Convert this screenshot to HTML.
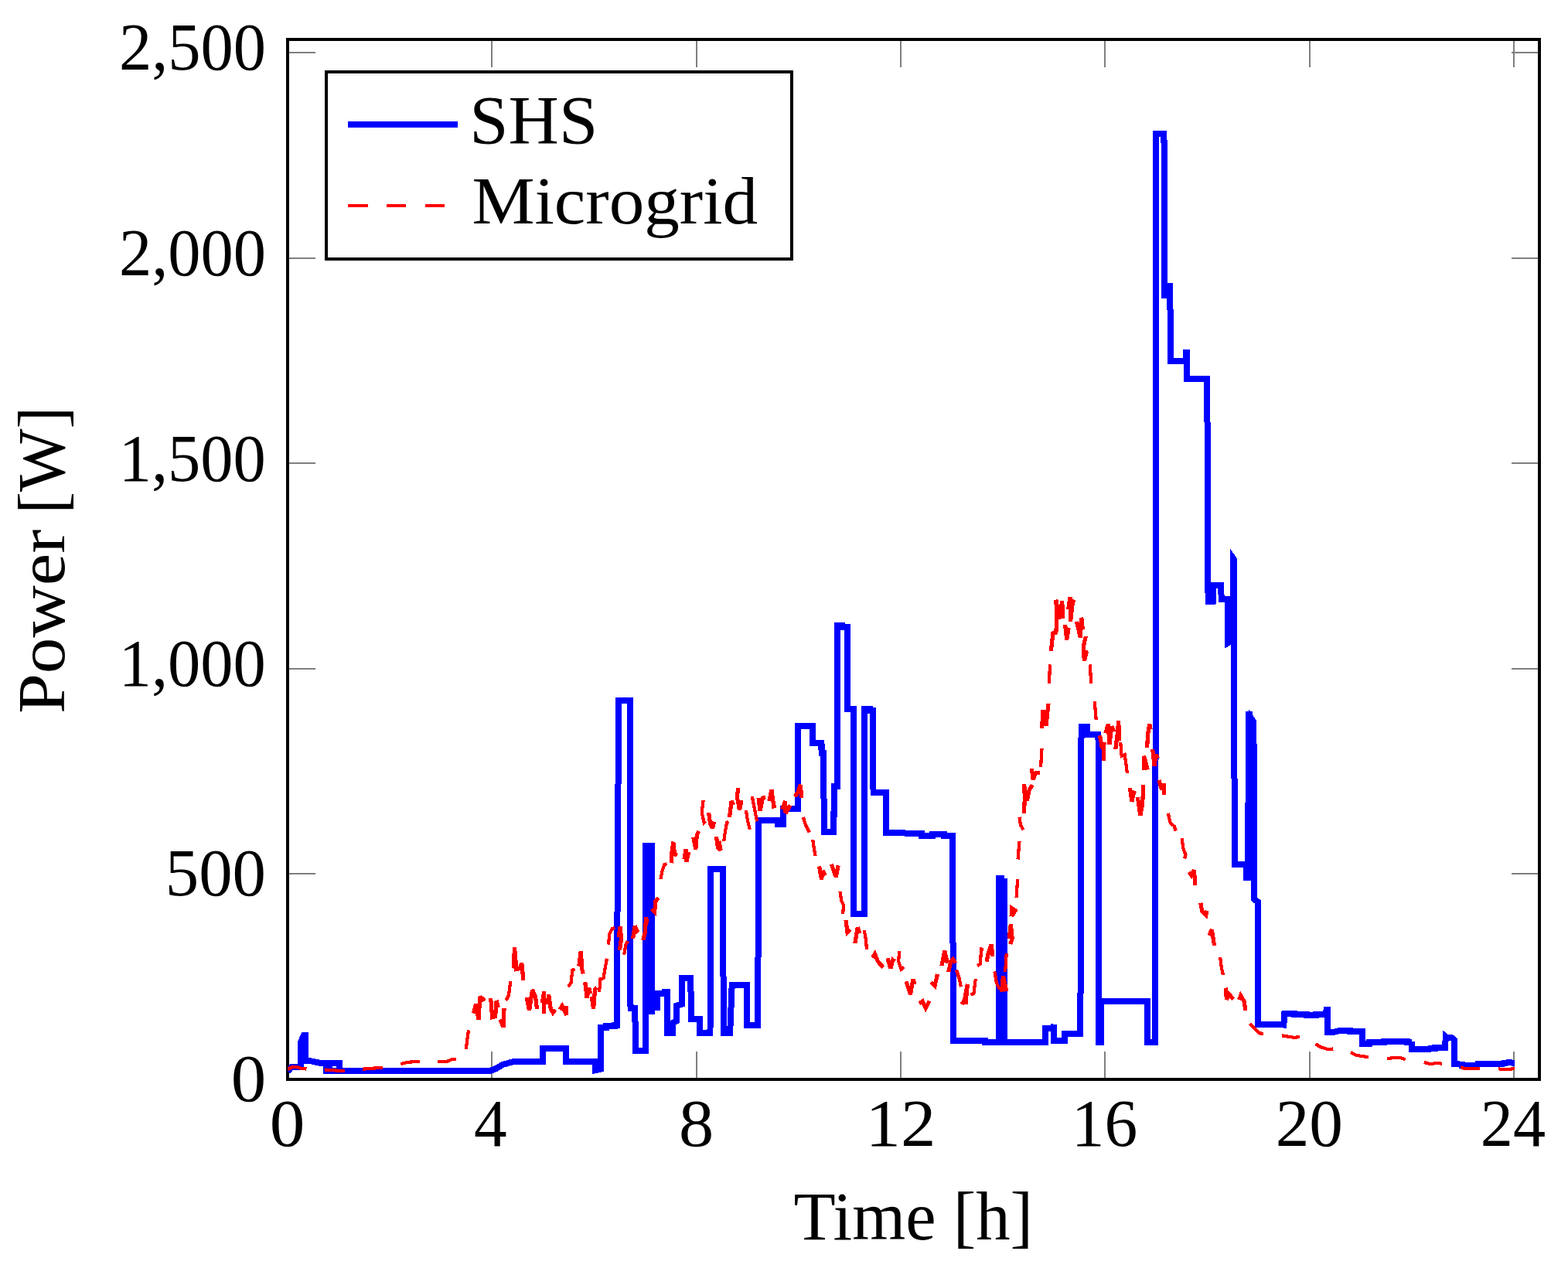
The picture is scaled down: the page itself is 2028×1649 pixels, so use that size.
<!DOCTYPE html>
<html lang="en">
<head>
<meta charset="utf-8">
<title>Power [W] over Time [h]: SHS vs Microgrid</title>
<style>
html,body{margin:0;padding:0;background:#fff;}
body{width:2028px;height:1649px;overflow:hidden;}
svg{display:block;}
text{font-family:"Liberation Serif","DejaVu Serif",serif;fill:#000;}
.tick{stroke:#7f7f7f;stroke-width:2;fill:none;shape-rendering:crispEdges;}
.frame{stroke:#000;stroke-width:4;fill:none;shape-rendering:crispEdges;}
.shs{stroke:#0000ff;stroke-width:8;fill:none;stroke-linejoin:miter;stroke-miterlimit:10;stroke-linecap:butt;shape-rendering:crispEdges;}
.mg{stroke:#ff0000;stroke-width:4.2;fill:none;stroke-linejoin:miter;stroke-miterlimit:2.5;stroke-linecap:butt;shape-rendering:crispEdges;}
.mgn{stroke-width:5.2;}
</style>
</head>
<body>
<svg width="2028" height="1649" viewBox="0 0 2028 1649" role="img" aria-label="Power in watts over time in hours for SHS and Microgrid">
<rect x="0" y="0" width="2028" height="1649" fill="#ffffff"/>
<g class="tick">
<line x1="372" y1="1396.0" x2="372" y2="1360.0"/>
<line x1="372" y1="51.0" x2="372" y2="87.0"/>
<line x1="636" y1="1396.0" x2="636" y2="1360.0"/>
<line x1="636" y1="51.0" x2="636" y2="87.0"/>
<line x1="901" y1="1396.0" x2="901" y2="1360.0"/>
<line x1="901" y1="51.0" x2="901" y2="87.0"/>
<line x1="1165" y1="1396.0" x2="1165" y2="1360.0"/>
<line x1="1165" y1="51.0" x2="1165" y2="87.0"/>
<line x1="1429" y1="1396.0" x2="1429" y2="1360.0"/>
<line x1="1429" y1="51.0" x2="1429" y2="87.0"/>
<line x1="1694" y1="1396.0" x2="1694" y2="1360.0"/>
<line x1="1694" y1="51.0" x2="1694" y2="87.0"/>
<line x1="1958" y1="1396.0" x2="1958" y2="1360.0"/>
<line x1="1958" y1="51.0" x2="1958" y2="87.0"/>
<line x1="372.0" y1="1396" x2="408.0" y2="1396"/>
<line x1="1991.2" y1="1396" x2="1955.2" y2="1396"/>
<line x1="372.0" y1="1130" x2="408.0" y2="1130"/>
<line x1="1991.2" y1="1130" x2="1955.2" y2="1130"/>
<line x1="372.0" y1="865" x2="408.0" y2="865"/>
<line x1="1991.2" y1="865" x2="1955.2" y2="865"/>
<line x1="372.0" y1="599" x2="408.0" y2="599"/>
<line x1="1991.2" y1="599" x2="1955.2" y2="599"/>
<line x1="372.0" y1="334" x2="408.0" y2="334"/>
<line x1="1991.2" y1="334" x2="1955.2" y2="334"/>
<line x1="372.0" y1="68" x2="408.0" y2="68"/>
<line x1="1991.2" y1="68" x2="1955.2" y2="68"/>
</g>
<rect class="frame" x="372.0" y="51.0" width="1619.2" height="1345.0"/>
<clipPath id="ax"><rect x="372.0" y="51.0" width="1619.2" height="1345.0"/></clipPath>
<g clip-path="url(#ax)">
<path class="shs" d="M372,1386 L377,1380 L389,1380 L389,1348 L393,1339 L395,1339 L395,1372.3 L402,1372.3 L410,1374 L417,1375.3 L421.5,1375.3 L421.5,1385 L425.8,1385 L425.8,1375.3 L439,1375.3 L439,1385 L426,1385 L634,1385 L642,1381.8 L650,1377 L664,1373 L701.5,1373 L701.5,1355.5 L732.4,1355.5 L732.4,1372.8 L769.59,1373.04 L769.59,1384.28 L776.88,1382.71 L776.88,1329.25 L784.38,1329.25 L784.38,1326.69 L795.23,1326.69 L795.23,1325.51 L798.19,1325.51 L798.19,1233.79 L800.16,905.83 L814.56,905.83 L814.95,1076 L815.52,1303.91 L821.35,1303.91 L821.85,1358.84 L834.67,1358.84 L835.07,1298.88 L835.46,1093.75 L842.96,1093.75 L842.81,1312.46 M850.03,1307 L850.03,1284.99 L859.72,1284.68 L859.72,1282.71 L863.27,1282.71 L863.27,1336.36 L870.18,1336.36 L870.57,1322.55 L874.71,1320.58 L874.71,1300.85 L881.62,1298.88 L881.62,1264.76 L893.25,1264.76 L894.04,1317.62 L904.69,1317.62 L904.69,1335.96 L918.5,1335.96 L919.09,1123.73 L934.87,1123.73 L935.86,1335.96 L944.14,1335.96 L946.71,1273.83 L966.23,1273.83 L966.23,1326.49 L980.24,1326.49 L981.03,1076.05 L981.03,1061.06 L1006.27,1061.06 L1006.27,1065.6 L1013.18,1065.6 L1013.18,1046.46 L1031.91,1046.46 L1032.31,938.97 L1051.05,938.97 L1051.05,961.26 L1061.5,961.26 L1061.5,965.99 L1063.47,965.99 L1063.47,973.88 L1065.05,973.88 L1065.84,1076.05 L1077.67,1076.05 L1078.26,1052.78 L1079.25,1052.78 L1079.25,1017.27 L1082.6,1017.27 L1083.2,948.24 L1083.2,808.79 L1089.11,808.79 L1089.11,811.16 L1096.02,811.16 L1096.02,916.88 L1103.51,916.88 L1103.91,1181.92 L1117.71,1181.92 L1118.11,917.07 L1124.62,917.07 L1124.62,918.65 L1128.56,918.65 L1129.55,1025.16 L1146.31,1025.16 L1146.31,1077.43 L1192.27,1077.58 L1192.27,1080.93 L1206.07,1080.93 L1206.07,1078.96 L1220.87,1078.96 L1220.87,1080.93 L1232.31,1080.93 L1232.7,1346.22 L1274.12,1346.22 L1274.12,1347.79 L1292.47,1347.79 L1292.47,1136.16 L1295.42,1136.16 L1295.42,1346.22 L1298.58,1136.16 L1298.78,1347.79 L1351.64,1347.79 L1351.64,1330.04 L1362.49,1330.04 L1363.27,1324.92 L1362.88,1346.22 L1376.69,1346.22 L1376.69,1336.75 L1397.4,1336.75 L1397.99,1076.05 L1398.58,939.95 L1406.27,939.95 L1406.27,949.62 L1420.47,949.62 L1421.07,1076 L1421.07,1347.79 L1424.42,1347.79 L1424.42,1294.93 L1484.18,1294.93 L1484.18,1347.79 L1494.44,1347.79 L1494.44,1076 L1495.23,172.99 L1505.48,172.99 L1506.07,382.07 L1512.19,382.07 L1512.19,370.23 L1512.98,370.23 L1513.96,426 L1513.96,467.42 L1534.08,467.42 L1534.08,455.59 L1534.67,455.59 L1534.67,489.51 L1561.3,489.51 L1562.29,751 L1562.68,777.63 L1568.6,777.63 L1569.19,756.92 L1579.25,756.92 L1579.64,774.67 L1587.53,774.67 L1587.53,831.87 L1594.24,827.92 L1594.83,721.86 L1595.82,723.24 L1595.82,751 L1596.8,1118.41 L1611.99,1118.41 L1611.99,1135.17 L1614.16,1135.17 L1614.95,923.98 L1616.13,923.98 L1617.51,1135.17 L1618.5,929.5 L1621.46,934.04 L1621.85,1162.79 L1627.18,1166.73 L1627.18,1324.92 L1642.56,1324.52 L1660.32,1325.51 L1661.3,1311.11 L1674.12,1311.11 L1674.12,1312.09 L1689.9,1312.09 L1689.9,1312.88 L1701.74,1312.88 L1701.74,1312.09 L1715.15,1312.09 L1715.54,1305.78 L1716.53,1305.78 L1716.53,1334.78 L1725.4,1334.78 L1731.32,1333.2 L1746.11,1333.2 L1746.11,1334.19 L1762.49,1334.19 L1762.49,1349.57 L1770.77,1349.57 L1770.77,1348.19 L1790.49,1348.19 L1790.49,1347.2 L1820.08,1347.2 L1820.08,1347.99 L1826.39,1347.99 L1826.43,1347.4 L1826.43,1357.46 L1848.32,1357.46 L1849.31,1356.07 L1856.21,1356.07 L1856.21,1355.09 L1869.03,1355.09 L1869.82,1340.79 L1871.2,1341.97 L1878.4,1342.47 L1880.87,1345.23 L1881.07,1376.29 L1890.73,1376.59 L1890.73,1377.57 L1897.63,1377.57 L1897.63,1378.26 L1910.45,1378.26 L1911.44,1375.8 L1920.32,1375.8 L1921.79,1376.39 L1943,1376.39 L1943.98,1375.31 L1947.93,1375.31 L1949.41,1374.32 L1958.78,1374.62"/>
<path class="mg" d="M372,1383 L378,1380 L384,1380 L390,1382 L396.5,1382.5 M420.3,1383.5 L446,1385.3 M469.2,1382.7 L494.9,1380.7 M518.3,1376.2 L526,1374 L534,1373.3 L543,1373.3 M566.3,1373.4 L578,1373 L585,1370 L590,1370 M602.74,1357.07 L604.32,1344.24 L606.09,1332.41 M654.42,1293.95 L657.97,1287.05 L659.94,1271.27 L662.31,1271.27 M734.89,1276.2 L738.44,1271.27 L740.41,1254.5 L743.77,1253.51 M775.11,1283.1 L776.49,1266.34 L780.43,1265.35 L782.41,1253.51 L784.97,1239.71 M786.94,1221.56 L788.32,1208.15 L791.68,1201.25 L795.23,1199.87 M807.06,1234.78 L809.43,1221.96 L811.99,1217.03 M854.4,1137.14 L856.37,1127.28 L859.33,1118.41 L862.29,1117.03 M936.25,1088.23 L937.83,1076 L940.2,1063.62 L942.17,1062.64 M909.63,1035.02 L907.65,1050.8 L910.61,1063.62 L912.58,1061.65 M964.85,1047.84 L966.82,1060.66 L969.78,1072.89 M972.74,1030.09 L975.7,1044.89 L979.05,1062.24 M1038.82,1056.72 L1041.78,1066.58 L1046.71,1076.44 M1051.24,1085.86 L1052.62,1095.72 L1054.6,1107.16 M1086.55,1152.92 L1088.13,1164.76 L1091.08,1170.67 L1090.1,1182.11 M1117.71,1203.22 L1119.68,1214.07 L1121.07,1227.87 M1163.27,1229.85 L1162.09,1243.65 L1165.64,1253.51 L1169.19,1250.56 M1237.04,1254.5 L1240.59,1265.35 L1242.96,1276.2 M1255.38,1286.65 L1259.33,1285.07 L1261.89,1265.74 M1264.26,1249.18 L1267.81,1246.61 L1269.19,1227.48 L1272.15,1227.87 M1286.35,1256.47 L1288.92,1271.27 L1292.86,1279.55 M1300.16,1257.07 L1301.74,1232.8 M1314.56,1161.21 L1316.13,1136.75 M1316.53,1111.5 L1318.5,1087.83 M1318.5,1056.72 L1319.88,1066.58 L1323.43,1073.49 M1346.11,992.03 L1347.5,967.96 M1356.96,884.33 L1357.95,859.48 M1409.82,859.48 L1411.2,884.33 M1415.74,906.82 L1417.71,931.08 M1449.27,960.07 L1450.65,977.82 L1454.6,975.85 L1456.57,989.66 L1457.95,999.92 M1510.81,1051.79 L1513.77,1064.61 L1518.7,1068.55 L1520.67,1074.47 M1528.56,1083.89 L1530.53,1097.7 L1533.49,1105.59 L1532.11,1110.52 M1578.07,1237.74 L1579.84,1251.54 L1582.01,1261.01 M1616.53,1324.13 L1622.84,1330.44 L1628.76,1336.36 L1634.28,1336.75 M1657.95,1339.31 L1666.23,1340.69 L1674.12,1341.88 L1681.03,1340.89 M1701.74,1350.16 L1707.65,1354.11 L1717.51,1357.07 L1724.42,1356.47 M1747.1,1361.01 L1753.02,1364.36 L1762.88,1366.34 L1769.78,1366.93 M1794.04,1369.29 L1802.33,1367.91 L1812.19,1368.31 L1817.71,1370.28 M1841.78,1373.83 L1849.66,1376.2 L1859.53,1374.82 L1865.05,1375.8 M1889.25,1380.24 L1893.69,1381.72 L1903.55,1381.72 L1914.4,1382.21 M1938.07,1382.21 L1943,1383.2 L1949.9,1383.2 L1958.78,1381.91"/>
<path class="mg mgn" d="M612.6,1310.71 L615.56,1298.88 L618.92,1318.6 L620.89,1289.02 L624.44,1292.96 L627.4,1290.99 M634.69,1290.99 L636.67,1315.64 L640.61,1314.66 L642.19,1293.95 L644.16,1302.82 M647.12,1318.6 L651.07,1328.47 L652.05,1303.81 M664.28,1252.53 L665.46,1224.92 L667.83,1253.51 L672.76,1252.53 L674.73,1245.63 L676.71,1265.35 L679.27,1265.35 M681.24,1290 L684.6,1306.77 L688.54,1280.14 L692.49,1289.02 L694.46,1304.8 M701.36,1296.91 L703.73,1282.11 L703.33,1308.74 L705.7,1308.74 M708.26,1298.88 L709.64,1286.06 L712.21,1304.8 L715.17,1309.73 L718.13,1305.78 M724.04,1305.78 L727,1300.85 L732.52,1312.69 L732.92,1300.85 M748.88,1249.57 L751.24,1229.85 L752.82,1253.51 L754.2,1259.43 M756.77,1270.28 L759.13,1290.99 L761.7,1277.18 L763.67,1285.07 M765.25,1289.02 L767.61,1304.8 L769.59,1279.16 L771.95,1277.18 M800.16,1212.09 L802.13,1198.29 L803.51,1214.07 L801.54,1228.86 M818.5,1214.07 L821.26,1197.3 L823.83,1204.21 L825.8,1202.23 M831.72,1216.04 L834.28,1206.18 L835.66,1186.45 L836.65,1194.34 M842.56,1175.61 L846.51,1179.55 L848.09,1164.76 L852.03,1161.21 M868.21,1116.43 L868.6,1105.59 L870.77,1088.82 L872.54,1104.6 L875.7,1106.57 M884.97,1111.5 L886.94,1098.09 L887.93,1114.46 L890.89,1101.64 M896.8,1082.9 L899.76,1098.68 L901.34,1079.94 L903.71,1075.01 M926.39,1081.92 L928.36,1095.72 L932.31,1099.67 L929.74,1087.83 M916.53,1050.8 L918.5,1064.61 L921.46,1071.51 L923.83,1062.64 M943.55,1057.11 L946.11,1036.01 L948.68,1040.94 M954.6,1018.85 L953.41,1031.08 L956.57,1047.84 L958.93,1035.02 M981.03,1032.07 L983,1048.83 L986.55,1032.07 L990.1,1030.68 M994.83,1036.01 L997.99,1021.61 L1000.75,1042.91 L1003.91,1041.93 M1011.79,1046.86 L1015.54,1036.01 L1016.13,1051.79 L1022.05,1041.34 M1027.97,1030.09 L1031.91,1025.16 L1035.27,1014.91 L1036.84,1032.07 M1059.53,1120.38 L1062.49,1137.14 L1064.46,1126.3 L1067.42,1132.21 M1075.31,1117.81 L1081.22,1134.19 L1084.18,1119.39 M1094.04,1190 L1096.02,1206.18 L1099.96,1202.23 M1105.88,1219.98 L1109.23,1199.27 L1111.79,1207.16 M1128.56,1238.72 L1131.52,1233.79 L1135.46,1243.65 L1142.37,1251.15 M1147.89,1239.31 L1151.83,1252.53 L1154.79,1241.68 L1157.36,1243.65 M1171.95,1269.29 L1177.48,1286.06 L1181.03,1266.34 L1183,1273.24 M1188.92,1297.89 L1193.25,1294.93 L1197.2,1303.81 L1202.13,1294.54 M1204.1,1270.28 L1209.03,1274.82 L1212.58,1259.83 M1217.91,1249.18 L1221.85,1229.85 L1225.21,1245.63 M1226.79,1257.07 L1229.74,1243.65 L1232.7,1240.69 L1235.66,1245.63 M1244.14,1298.88 L1247.5,1292.96 L1251.44,1272.84 L1248.88,1298.88 M1276.09,1243.65 L1278.07,1233.79 L1282.01,1221.56 L1283.98,1236.75 M1295.82,1282.71 L1297.4,1262.39 L1301.74,1282.11 M1305.29,1214.07 L1307.26,1195.33 L1309.23,1214.07 L1306.67,1220.97 M1308.05,1185.47 L1308.64,1174.62 L1313.18,1177.58 L1309.63,1183.5 M1324.42,1052.38 L1325.4,1031.08 L1324.42,1014.31 L1328.36,1035.02 L1331.32,1021.22 L1335.27,1015.3 M1334.28,994 L1336.25,1008.4 L1339.21,999.92 L1345.13,999.13 M1347.5,942.32 L1349.07,918.65 L1353.02,938.38 L1355.98,909.78 M1359.33,842.12 L1361.89,819.05 L1365.84,818.06 L1366.82,798.34 L1365.84,775.65 L1369.78,800.31 L1373.73,777.63 L1374.71,800.31 M1377.67,808.2 L1379.64,827.53 L1382.21,812.14 M1381.62,788.48 L1383.98,772.3 L1384.58,803.86 L1387.53,777.63 L1390.49,778.61 M1392.47,803.86 L1397.4,824.96 L1398.78,798.73 L1400.36,814.12 M1404.3,822.99 L1401.34,835.81 L1402.33,854.55 L1405.29,843.7 L1407.26,842.72 M1422.45,951.2 L1425.6,967.96 L1427.97,960.07 L1427.57,984.14 M1429.94,948.24 L1433.29,936.4 L1434.87,963.03 L1437.83,939.36 L1440.79,946.27 M1442.76,968.95 L1445.33,948.24 L1446.71,932.46 L1447.69,958.1 M1461.5,1018.85 L1463.87,1037 L1466.43,1025.16 L1468.99,1026.15 M1471.36,1031.08 L1474.91,1054.75 L1477.67,1038.97 L1478.86,1014.91 M1479.25,995.97 L1479.64,977.82 L1484.18,995.58 M1483.59,966.98 L1484.77,948.24 L1486.75,936.01 L1488.13,943.31 M1490.69,968.95 L1493.06,990.64 L1495.03,975.85 L1497.4,980.78 M1498.97,1008.99 L1502.52,1021.22 L1505.29,1013.33 L1505.29,1028.12 M1538.03,1127.68 L1540.99,1132.21 L1544.34,1125.31 L1545.92,1145.03 M1552.82,1167.72 L1554.79,1178.56 L1559.72,1183.5 L1560.71,1177.58 M1564.06,1210.12 L1567.22,1202.23 L1569.19,1214.07 L1570.57,1222.94 M1585.36,1277.58 L1586.35,1292.96 L1588.92,1285.07 L1595.23,1292.57 M1602.72,1292.96 L1604.69,1287.44 L1609.03,1294.93 L1611.01,1306.77"/>
</g>
<g>
<text transform="translate(154.00,90.00) scale(0.9823,1)" font-size="86">2,500</text>
<text transform="translate(154.00,356.30) scale(0.9823,1)" font-size="86">2,000</text>
<text transform="translate(153.69,621.80) scale(0.9829,1)" font-size="86">1,500</text>
<text transform="translate(153.69,887.30) scale(0.9829,1)" font-size="86">1,000</text>
<text transform="translate(213.79,1158.00) scale(1.0091,1)" font-size="86">500</text>
<text transform="translate(298.86,1424.00) scale(1.0576,1)" font-size="86">0</text>
<text transform="translate(348.85,1482.40) scale(1.0604,1)" font-size="86">0</text>
<text transform="translate(613.09,1482.40) scale(0.9927,1)" font-size="86">4</text>
<text transform="translate(877.98,1482.40) scale(1.0520,1)" font-size="86">8</text>
<text transform="translate(1119.52,1482.40) scale(1.0567,1)" font-size="86">12</text>
<text transform="translate(1385.80,1482.40) scale(0.9950,1)" font-size="86">16</text>
<text transform="translate(1649.67,1482.40) scale(1.0154,1)" font-size="86">20</text>
<text transform="translate(1914.81,1482.40) scale(0.9797,1)" font-size="86">24</text>
<text transform="translate(1026.53,1602.60) scale(1.0074,1)" font-size="88">Time [h]</text>
<text transform="translate(83.2,923.10) rotate(-90) scale(1.0726,1.0)" font-size="87">Power</text>
<text transform="translate(83.2,664.78) rotate(-90) scale(0.9928,1.0)" font-size="87">[W]</text>
</g>
<g>
<rect x="422" y="93" width="601.5" height="242" fill="#fff" stroke="#000" stroke-width="4" shape-rendering="crispEdges"/>
<line x1="450" y1="160.8" x2="592" y2="160.8" stroke="#0000ff" stroke-width="8.3" shape-rendering="crispEdges"/>
<line x1="450" y1="266.1" x2="592" y2="266.1" stroke="#ff0000" stroke-width="4.2" stroke-dasharray="25.6 24.2" shape-rendering="crispEdges"/>
<text transform="translate(607.32,184.60) scale(1.0274,1)" font-size="88">SHS</text>
<text transform="translate(610.46,289.40) scale(1.0481,1)" font-size="87">Microgrid</text>
</g>
</svg>
</body>
</html>
